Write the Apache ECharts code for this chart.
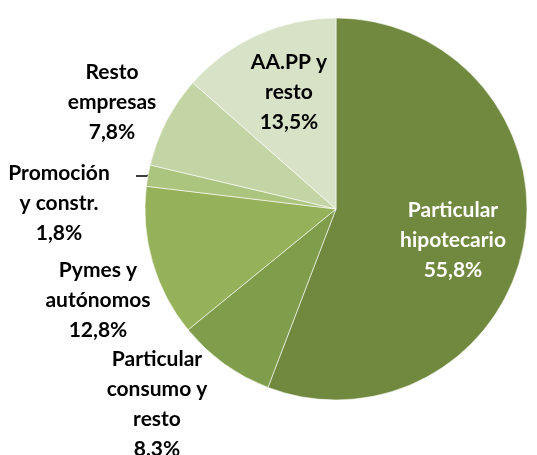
<!DOCTYPE html>
<html>
<head>
<meta charset="utf-8">
<script src="https://cdn.jsdelivr.net/npm/echarts@6/dist/echarts.min.js"></script>
<style>
  html, body { margin: 0; padding: 0; background: #fff; }
  #chart { width: 537px; height: 455px; }
</style>
</head>
<body>
<div id="chart"></div>
<script>
// segments, clockwise from 12 o'clock
const categories = [
  "Particular\nhipotecario",
  "Particular\nconsumo y\nresto",
  "Pymes y\nautónomos",
  "Promoción\ny constr.",
  "Resto\nempresas",
  "AA.PP y\nresto"
];
const shares = [55.8, 8.3, 12.8, 1.8, 7.8, 13.5];

const colors = ["#71893F", "#7F9D4A", "#95B159", "#ABC47E", "#C3D4A5", "#D8E2C7"];
// label block centres, picked by eye
const labelPos = [[453, 240], [157, 404], [98, 300], [59, 203], [112, 102], [289, 92]];

const chart = echarts.init(document.getElementById("chart"));

chart.setOption({
  animation: false,
  series: [
    {
      type: "pie",
      center: [336, 209],
      radius: 191,
      startAngle: 90,
      clockwise: true,
      itemStyle: { borderColor: "#ffffff", borderWidth: 0.6 },
      label: {
        show: true,
        position: "inside",
        fontFamily: "Lato",
        fontWeight: "bold",
        fontSize: 21,
        lineHeight: 30,
        color: "#000",
        formatter: p => p.name + "\n" + p.value.toFixed(1).replace(".", ",") + "%"
      },
      labelLine: { show: false },
      labelLayout: p => {
        const out = {
          x: labelPos[p.dataIndex][0],
          y: labelPos[p.dataIndex][1],
          align: "center",
          verticalAlign: "middle"
        };
        // short leader for the thin slice, as in the original
        if (p.dataIndex === 3) {
          out.labelLinePoints = [[152, 173], [147, 176], [136, 176]];
        }
        return out;
      },
      data: categories.map((c, i) => ({
        name: c,
        value: shares[i],
        itemStyle: { color: colors[i] },
        label: i === 0 ? { color: "#fff" } : (i === 3 ? { position: "outside" } : {}),
        labelLine: i === 3 ? { show: true, length: 4, length2: 12, lineStyle: { color: "#000", width: 1.5 } } : undefined
      }))
    }
  ]
});
</script>
</body>
</html>
